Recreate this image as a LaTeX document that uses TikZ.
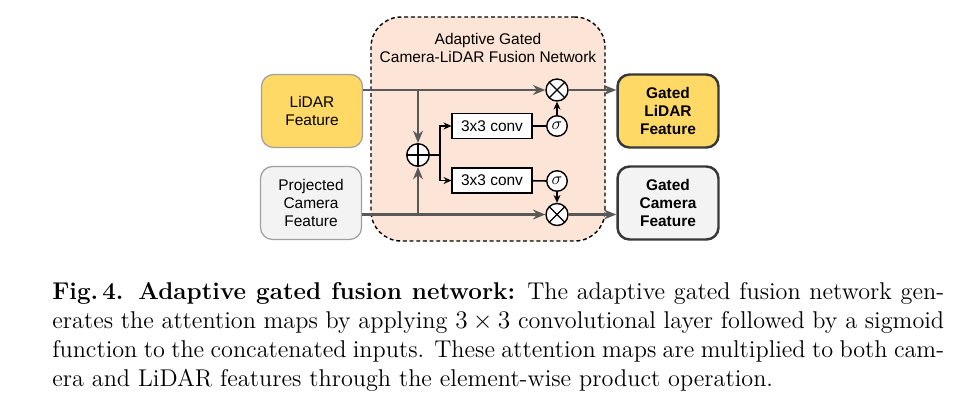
\documentclass[tikz,border=0pt]{standalone}
\usepackage{amsmath}
\usepackage{fontspec}
\setsansfont{Liberation Sans}
\usetikzlibrary{arrows.meta}

\definecolor{lidarfill}{HTML}{FFD966}
\definecolor{camfill}{HTML}{F3F3F3}
\definecolor{netfill}{HTML}{FCE4D6}
\definecolor{flowgray}{HTML}{595959}

\tikzset{
  feat/.style={draw=gray!75, line width=0.7pt, rounded corners=0.24cm,
    minimum width=2.02cm, minimum height=1.46cm, align=center,
    font=\sffamily\fontsize{8.8}{10.4}\selectfont},
  gated/.style={feat, draw=black!78, line width=1.4pt,
    font=\sffamily\bfseries\fontsize{8.8}{10.4}\selectfont},
  conv/.style={draw, fill=white, line width=0.65pt, inner sep=0pt,
    minimum width=1.6cm, minimum height=0.5cm,
    font=\sffamily\fontsize{8.8}{10.4}\selectfont},
  sig/.style={circle, draw, fill=white, line width=0.8pt, inner sep=0pt,
    minimum size=0.41cm},
  mul/.style={circle, draw, fill=white, line width=0.8pt, inner sep=0pt,
    minimum size=0.44cm,
    path picture={\draw[line width=0.7pt]
      (path picture bounding box.north west) -- (path picture bounding box.south east)
      (path picture bounding box.north east) -- (path picture bounding box.south west);}},
  add/.style={circle, draw, fill=white, line width=0.8pt, inner sep=0pt,
    minimum size=0.45cm,
    path picture={\draw[line width=0.7pt]
      (path picture bounding box.north) -- (path picture bounding box.south)
      (path picture bounding box.east) -- (path picture bounding box.west);}},
  flow/.style={draw=flowgray, line width=1.3pt},
  flowarr/.style={flow, -{Stealth[length=7pt,width=5.6pt]}},
  sigline/.style={draw=black, line width=0.95pt},
  sigarr/.style={sigline, -{Stealth[length=4.5pt,width=4pt]}},
}

\begin{document}
\begin{tikzpicture}[x=0.02cm,y=-0.02cm]
        \useasboundingbox (0,0) rectangle (972,400);

        % fusion network frame
        \node[draw, fill=netfill, line width=0.8pt, dash pattern=on 2.2pt off 1.6pt,
              rounded corners=0.6cm, minimum width=4.68cm, minimum height=4.48cm]
              at (488,129) (net) {};
        \node[align=center, font=\sffamily\fontsize{8.8}{10.3}\selectfont]
              at (488,48) (title) {Adaptive Gated\\Camera-LiDAR Fusion Network};

        % inputs and outputs
        \node[feat, fill=lidarfill] at (312,111) (lidar) {LiDAR\\Feature};
        \node[feat, fill=camfill] at (311,203) (cam) {Projected\\Camera\\Feature};
        \node[gated, fill=lidarfill] at (668,111) (glidar) {Gated\\LiDAR\\Feature};
        \node[gated, fill=camfill] at (668,203) (gcam) {Gated\\Camera\\Feature};

        % operators
        \node[mul] at (557,90) (mtop) {};
        \node[mul] at (557,214.5) (mbot) {};
        \node[add] at (418,155) (sum) {};
        \node[conv] at (492,126) (conva) {3x3 conv};
        \node[conv] at (492,180.5) (convb) {3x3 conv};
        \node[sig] at (557,126) (siga) {$\sigma$};
        \node[sig] at (557,181) (sigb) {$\sigma$};
        \coordinate (fork) at (440,155);

        % feature flows
        \draw[flowarr] (lidar.east |- mtop) -- (mtop);
        \draw[flowarr] (cam.east |- mbot) -- (mbot);
        \draw[flowarr] (mtop) -- (glidar.west |- mtop);
        \draw[flowarr] (mbot) -- (gcam.west |- mbot);
        \draw[flowarr] (sum.north |- mtop) -- (sum);
        \draw[flowarr] (sum.south |- mbot) -- (sum);

        % attention branches
        \draw[sigline] (sum) -- (fork);
        \draw[sigarr] (fork) |- (conva);
        \draw[sigarr] (fork) |- (convb);
        \draw[sigline] (conva) -- (siga);
        \draw[sigline] (convb) -- (sigb);
        \draw[sigarr] (siga) -- (mtop);
        \draw[sigarr] (sigb) -- (mbot);

        % caption
        \node[anchor=north west, inner sep=0pt, text width=17.84cm, align=justify,
              font=\fontsize{13.8}{16.44}\selectfont] at (52,282) (caption)
              {\textbf{Fig.\,4. Adaptive gated fusion network:}\enspace The adaptive gated fusion network gen-\linebreak
               erates the attention maps by applying $3\times 3$ convolutional layer followed by a sigmoid\linebreak
               function to the concatenated inputs. These attention maps are multiplied to both cam-\linebreak
               era and LiDAR features through the element-wise product operation.};
    \end{tikzpicture}
\end{document}
